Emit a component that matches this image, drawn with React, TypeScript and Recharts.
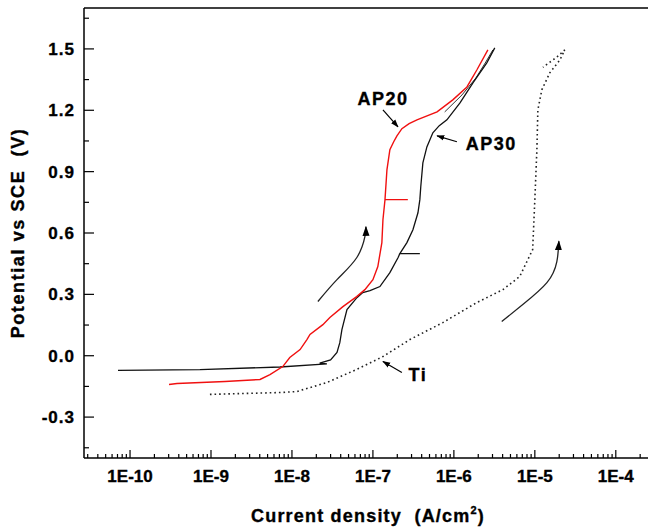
import React from "react";
import {
  ComposedChart,
  Line,
  Scatter,
  XAxis,
  YAxis,
  ReferenceLine,
  Label,
} from "recharts";

// polarization curves, [current density (A/cm2), potential (V vs SCE)]
const ap30: [number, number][] = [
  [7.1e-11, -0.072], [7.3e-10, -0.068], [7.1e-9, -0.055], [2.7e-8, -0.04],
  [2.2e-8, -0.036], [3.0e-8, -0.02], [3.6e-8, 0.016], [3.9e-8, 0.064],
  [4.14e-8, 0.128], [4.78e-8, 0.226], [6.34e-8, 0.284], [7.5e-8, 0.309],
  [9.2e-8, 0.318], [1.22e-7, 0.338], [1.62e-7, 0.406], [2.04e-7, 0.479],
  [2.15e-7, 0.499], [3.8e-7, 0.499], [2.15e-7, 0.499], [2.63e-7, 0.553],
  [3.12e-7, 0.616], [3.6e-7, 0.699], [3.8e-7, 0.763], [3.9e-7, 0.826],
  [4.14e-7, 0.943], [4.64e-7, 1.021], [5.5e-7, 1.09], [6.6e-7, 1.125],
  [8.2e-7, 1.153], [1.19e-6, 1.236], [1.72e-6, 1.334], [2.55e-6, 1.432],
  [3.2e-6, 1.505],
];

const ap30Back: [number, number][] = [
  [7.7e-7, 1.192], [1.26e-6, 1.275], [1.87e-6, 1.358], [2.48e-6, 1.436], [3.03e-6, 1.495],
];

const ap20: [number, number][] = [
  [3.03e-10, -0.141], [3.8e-10, -0.136], [1.49e-9, -0.126], [4.03e-9, -0.116],
  [5.35e-9, -0.092], [7.7e-9, -0.053], [9.4e-9, -0.009], [1.26e-8, 0.03],
  [1.53e-8, 0.079], [1.67e-8, 0.104], [2.41e-8, 0.152], [2.94e-8, 0.187],
  [4.26e-8, 0.24], [6.3e-8, 0.289], [7.96e-8, 0.323], [1.0e-7, 0.372],
  [1.15e-7, 0.436], [1.29e-7, 0.553], [1.33e-7, 0.665], [1.41e-7, 0.763],
  [2.7e-7, 0.763], [1.41e-7, 0.763], [1.49e-7, 0.909], [1.62e-7, 1.007],
  [1.8e-7, 1.045], [1.98e-7, 1.075], [2.28e-7, 1.11], [2.8e-7, 1.135],
  [3.5e-7, 1.153], [6.2e-7, 1.192], [9.7e-7, 1.251], [1.45e-6, 1.314],
  [1.92e-6, 1.397], [2.63e-6, 1.495],
];

const ti: [number, number][] = [
  [9.7e-10, -0.189], [7.1e-9, -0.18], [1.15e-8, -0.175], [2.7e-8, -0.131],
  [6.3e-8, -0.067], [1.33e-7, -0.004], [2.86e-7, 0.079], [7.3e-7, 0.162],
  [1.92e-6, 0.26], [4.03e-6, 0.323], [6.5e-6, 0.387], [8.2e-6, 0.47],
  [9.4e-6, 0.519], [1.0e-5, 0.763], [1.06e-5, 1.007], [1.09e-5, 1.202],
  [1.22e-5, 1.3], [1.53e-5, 1.383], [2.04e-5, 1.446], [2.34e-5, 1.495],
  [1.87e-5, 1.46], [1.26e-5, 1.41],
];

// scan direction arrows and label pointers
const scanArrowLeft: [number, number][] = [
  [2.09e-8, 0.265], [3.6e-8, 0.372], [6.3e-8, 0.479], [7.96e-8, 0.582], [8.2e-8, 0.63],
];
const scanArrowRight: [number, number][] = [
  [3.9e-6, 0.167], [7.1e-6, 0.25], [1.41e-5, 0.357], [1.87e-5, 0.46], [1.98e-5, 0.56],
];
const ap20Pointer: [number, number][] = [[1.33e-7, 1.202], [2.04e-7, 1.119]];
const ap30Pointer: [number, number][] = [[1.09e-6, 1.046], [6.2e-7, 1.075]];
const tiPointer: [number, number][] = [[2.28e-7, -0.082], [1.33e-7, -0.028]];

const curveLabels = [
  { i: 1.33e-7, v: 1.26, text: "AP20" },
  { i: 2.9e-6, v: 1.041, text: "AP30" },
  { i: 3.6e-7, v: -0.09, text: "Ti" },
];

const xDomain: [number, number] = [2.7e-11, 2.8e-4];
const yDomain: [number, number] = [-0.5, 1.7];

const xMajor = [1e-10, 1e-9, 1e-8, 1e-7, 1e-6, 1e-5, 1e-4];
const xMajorLabels = ["1E-10", "1E-9", "1E-8", "1E-7", "1E-6", "1E-5", "1E-4"];
const xMinorMult = [2, 3, 4, 5, 6, 7, 8, 9];

const yMajor = [-0.3, 0, 0.3, 0.6, 0.9, 1.2, 1.5];
const yMajorLabels = ["-0.3", "0.0", "0.3", "0.6", "0.9", "1.2", "1.5"];
const yMinor = [-0.45, -0.15, 0.15, 0.45, 0.75, 1.05, 1.35, 1.65];

const xMinor: number[] = [];
for (let e = -12; e <= -4; e++) {
  xMinorMult.forEach((m) => {
    const v = m * Math.pow(10, e);
    if (v > xDomain[0] && v < xDomain[1]) xMinor.push(v);
  });
}
const xTicks = [...xMajor, ...xMinor].sort((a, b) => a - b);
const yTicks = [...yMajor, ...yMinor].sort((a, b) => a - b);

const toPts = (arr: [number, number][]) => arr.map(([i, v]) => ({ i, v }));

const FONT = "'Liberation Sans', Arial, sans-serif";
// the scanned figure's lettering is heavy; a thin outline thickens it a bit
const heavy = { stroke: "#000", strokeWidth: 0.35, fill: "#000" };

const XTick = (props: any) => {
  const { x, y, payload } = props;
  const idx = xMajor.indexOf(payload.value);
  const major = idx >= 0;
  return (
    <g>
      <line x1={x} x2={x} y1={y} y2={y - (major ? 8 : 4)} stroke="#000" strokeWidth={1.2} />
      {major && (
        <text x={x} y={y + 24} textAnchor="middle" fontFamily={FONT} fontWeight="bold" fontSize={17} {...heavy}>
          {xMajorLabels[idx]}
        </text>
      )}
    </g>
  );
};

const YTick = (props: any) => {
  const { x, y, payload } = props;
  const idx = yMajor.findIndex((m) => Math.abs(m - payload.value) < 1e-9);
  const major = idx >= 0;
  return (
    <g>
      <line x1={x} x2={x + (major ? 10 : 5)} y1={y} y2={y} stroke="#000" strokeWidth={1.2} />
      {major && (
        <text x={x - 9} y={y + 6} textAnchor="end" fontFamily={FONT} fontWeight="bold" fontSize={17} letterSpacing={1} {...heavy}>
          {yMajorLabels[idx]}
        </text>
      )}
    </g>
  );
};

const CurveLabel = (props: any) => {
  const { cx, cy, payload } = props;
  return (
    <text x={cx} y={cy + 7} textAnchor="middle" fontFamily={FONT} fontWeight="bold" fontSize={18} letterSpacing={1.5} {...heavy}>
      {payload.text}
    </text>
  );
};

export default function App() {
  return (
    <div style={{ width: 648, height: 528, overflow: "hidden", background: "#fff" }}>
      <style>{`body { margin: 0; }`}</style>
      <svg width={0} height={0} style={{ position: "absolute" }}>
        <defs>
          <marker id="head" viewBox="0 0 10 10" refX="9" refY="5" markerWidth="10" markerHeight="10" markerUnits="userSpaceOnUse" orient="auto">
            <path d="M0,1.5 L10,5 L0,8.5 z" fill="#000" />
          </marker>
          <marker id="headSmall" viewBox="0 0 10 10" refX="9" refY="5" markerWidth="8" markerHeight="8" markerUnits="userSpaceOnUse" orient="auto">
            <path d="M0,1.5 L10,5 L0,8.5 z" fill="#000" />
          </marker>
        </defs>
      </svg>
      <ComposedChart width={660} height={528} margin={{ top: 8, right: 8, bottom: 0, left: 0 }}>
        <XAxis
          dataKey="i"
          type="number"
          scale="log"
          domain={xDomain}
          allowDataOverflow
          ticks={xTicks}
          interval={0}
          tickSize={0}
          tickMargin={0}
          tickLine={false}
          tick={<XTick />}
          height={70}
          axisLine={{ stroke: "#000", strokeWidth: 1.5 }}
        >
          <Label
            content={(p: any) => {
              const vb = p.viewBox;
              return (
                <text x={vb.x + vb.width / 2} y={522} textAnchor="middle" fontFamily={FONT} fontWeight="bold" fontSize={18} letterSpacing={1.2} {...heavy}>
                  Current density{"\u00a0\u00a0"}(A/cm
                  <tspan fontSize={11} dy={-8}>2</tspan>
                  <tspan dy={8}>)</tspan>
                </text>
              );
            }}
          />
        </XAxis>
        <YAxis
          dataKey="v"
          type="number"
          domain={yDomain}
          allowDataOverflow
          ticks={yTicks}
          interval={0}
          tickSize={0}
          tickMargin={0}
          tickLine={false}
          tick={<YTick />}
          width={84}
          axisLine={{ stroke: "#000", strokeWidth: 1.5 }}
        >
          <Label
            content={(p: any) => {
              const vb = p.viewBox;
              const cy = vb.y + vb.height / 2;
              return (
                <text x={24} y={cy} transform={`rotate(-90 24 ${cy})`} textAnchor="middle" fontFamily={FONT} fontWeight="bold" fontSize={18} letterSpacing={1.6} {...heavy}>
                  Potential vs SCE{"\u00a0\u00a0"}(V)
                </text>
              );
            }}
          />
        </YAxis>
        <ReferenceLine y={1.7} stroke="#000" strokeWidth={1.5} />

        <Line data={toPts(ti)} dataKey="v" type="linear" stroke="#222" strokeWidth={1.6} strokeDasharray="1.6 3" dot={false} activeDot={false} isAnimationActive={false} />
        <Line data={toPts(ap30Back)} dataKey="v" type="linear" stroke="#333" strokeWidth={1} dot={false} activeDot={false} isAnimationActive={false} />
        <Line data={toPts(ap30)} dataKey="v" type="linear" stroke="#111" strokeWidth={1.3} dot={false} activeDot={false} isAnimationActive={false} />
        <Line data={toPts(ap20)} dataKey="v" type="linear" stroke="#f01010" strokeWidth={1.4} dot={false} activeDot={false} isAnimationActive={false} />

        <Line data={toPts(scanArrowLeft)} dataKey="v" type="natural" stroke="#222" strokeWidth={1.3} markerEnd="url(#head)" dot={false} activeDot={false} isAnimationActive={false} />
        <Line data={toPts(scanArrowRight)} dataKey="v" type="natural" stroke="#222" strokeWidth={1.3} markerEnd="url(#head)" dot={false} activeDot={false} isAnimationActive={false} />
        <Line data={toPts(ap20Pointer)} dataKey="v" type="linear" stroke="#000" strokeWidth={1.2} markerEnd="url(#headSmall)" dot={false} activeDot={false} isAnimationActive={false} />
        <Line data={toPts(ap30Pointer)} dataKey="v" type="linear" stroke="#000" strokeWidth={1.2} markerEnd="url(#headSmall)" dot={false} activeDot={false} isAnimationActive={false} />
        <Line data={toPts(tiPointer)} dataKey="v" type="linear" stroke="#000" strokeWidth={1.2} markerEnd="url(#headSmall)" dot={false} activeDot={false} isAnimationActive={false} />

        <Scatter data={curveLabels.map((d) => ({ i: d.i, v: d.v, text: d.text }))} dataKey="v" shape={<CurveLabel />} isAnimationActive={false} />
      </ComposedChart>
    </div>
  );
}
